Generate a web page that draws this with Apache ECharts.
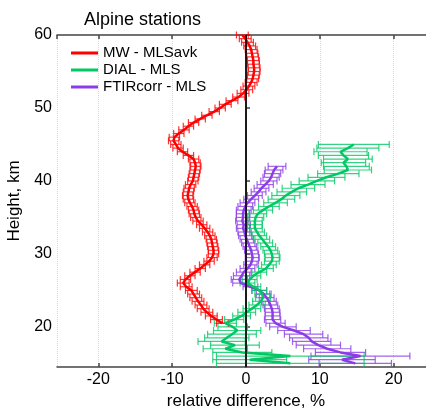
<!DOCTYPE html>
<html>
<head>
<meta charset="utf-8">
<script src="https://cdn.jsdelivr.net/npm/echarts@6/dist/echarts.min.js"></script>
<style>
  html, body { margin: 0; padding: 0; background: #fff; }
  #chart { width: 426px; height: 412px; }
</style>
</head>
<body>
<div id="chart"></div>
<script>
// MW - MLSavk, 60 km down to 20.5 km
var redHeight = [60, 59.5, 59, 58.5, 58, 57.5, 57, 56.5, 56, 55.5, 55, 54.5, 54, 53.5, 53, 52.5, 52, 51.5, 51, 50.5,
  50, 49.5, 49, 48.5, 48, 47.5, 47, 46.5, 46, 45.5, 45, 44.5, 44, 43.5, 43, 42.5, 42, 41.5, 41, 40.5,
  40, 39.5, 39, 38.5, 38, 37.5, 37, 36.5, 36, 35.5, 35, 34.5, 34, 33.5, 33, 32.5, 32, 31.5, 31, 30.5,
  30, 29.5, 29, 28.5, 28, 27.5, 27, 26.5, 26, 25.5, 25, 24.5, 24, 23.5, 23, 22.5, 22, 21.5, 21, 20.5];
var redValue = [-0.5, -0.1, 0.2, 0.5, 0.7, 0.8, 0.9, 1.0, 1.0, 1.1, 1.1, 1.0, 0.9, 0.7, 0.4, 0.1, -0.4, -1.0, -1.9, -2.8,
  -3.5, -4.3, -5.3, -6.2, -7.1, -7.8, -8.4, -9.1, -9.7, -9.8, -9.5, -9.2, -8.6, -7.8, -7.1, -6.9, -6.8, -6.9, -7.0, -7.1,
  -7.2, -7.5, -7.7, -7.8, -7.9, -7.8, -7.6, -7.3, -7.1, -7.0, -6.8, -6.5, -6.0, -5.6, -5.2, -4.9, -4.7, -4.6, -4.5, -4.4,
  -4.4, -4.6, -5.0, -5.6, -6.2, -6.9, -7.6, -8.2, -8.5, -8.1, -7.4, -7.1, -6.8, -6.5, -6.1, -5.8, -5.3, -4.7, -4.0, -3.2];
var redError = [0.8, 0.8, 0.8, 0.8, 0.8, 0.8, 0.8, 0.8, 0.8, 0.8, 0.8, 0.8, 0.8, 0.8, 0.8, 0.8, 0.8, 0.8, 0.8, 0.8,
  0.7, 0.7, 0.7, 0.7, 0.7, 0.7, 0.7, 0.7, 0.7, 0.7, 0.7, 0.7, 0.7, 0.7, 0.7, 0.7, 0.7, 0.7, 0.7, 0.7,
  0.7, 0.7, 0.7, 0.7, 0.7, 0.7, 0.7, 0.7, 0.7, 0.7, 0.7, 0.7, 0.7, 0.7, 0.7, 0.7, 0.7, 0.7, 0.7, 0.7,
  0.7, 0.7, 0.7, 0.7, 0.7, 0.7, 0.7, 0.7, 0.8, 0.8, 0.8, 0.8, 0.8, 0.8, 0.8, 0.8, 0.8, 0.8, 0.8, 0.8];

// DIAL - MLS, 45 km down to 15 km
var greenHeight = [45, 44.5, 44, 43.5, 43, 42.5, 42, 41.5, 41, 40.5, 40, 39.5, 39, 38.5, 38, 37.5, 37, 36.5, 36, 35.5,
  35, 34.5, 34, 33.5, 33, 32.5, 32, 31.5, 31, 30.5, 30, 29.5, 29, 28.5, 28, 27.5, 27, 26.5, 26, 25.5,
  25, 24.5, 24, 23.5, 23, 22.5, 22, 21.5, 21, 20.5, 20, 19.5, 19, 18.5, 18, 17.5, 17, 16.5, 16, 15.5, 15];
var greenValue = [14.6, 13.8, 12.8, 13.2, 13.8, 13.2, 13.6, 13.8, 12.5, 10.9, 9.6, 8.4, 7.1, 6.2, 5.4, 4.8, 4.0, 3.1, 2.3, 1.6,
  1.3, 1.2, 1.2, 1.2, 1.5, 1.8, 2.2, 2.6, 3.0, 3.3, 3.5, 3.6, 3.5, 3.1, 2.7, 1.8, 1.0, 0.5, 0.2, 1.0,
  1.8, 2.2, 2.3, 2.0, 1.5, 0.8, 0.1, -0.6, -1.6, -2.8, -1.8, -1.2, -1.9, -2.6, -3.3, -1.5, -2.8, -0.5, 6.0, 0.5, 6.0];
var greenError = [4.8, 4.2, 3.6, 3.4, 3.3, 3.0, 3.1, 3.2, 2.8, 2.5, 2.4, 2.3, 2.2, 2.0, 1.9, 1.8, 1.6, 1.4, 1.3, 1.2,
  1.1, 1.0, 1.0, 1.0, 1.0, 1.0, 1.0, 1.0, 1.0, 1.0, 1.0, 1.0, 1.0, 1.0, 1.0, 1.0, 1.0, 1.0, 1.0, 1.0,
  1.0, 1.0, 1.0, 1.1, 1.1, 1.2, 1.2, 1.2, 1.3, 1.5, 2.0, 3.2, 3.3, 3.0, 3.2, 3.3, 3.0, 4.0, 10.0, 5.0, 10.0];

// FTIRcorr - MLS, 42 km down to 15 km
var purpleHeight = [42, 41.5, 41, 40.5, 40, 39.5, 39, 38.5, 38, 37.5, 37, 36.5, 36, 35.5, 35, 34.5, 34, 33.5, 33, 32.5,
  32, 31.5, 31, 30.5, 30, 29.5, 29, 28.5, 28, 27.5, 27, 26.5, 26, 25.5, 25, 24.5, 24, 23.5, 23, 22.5,
  22, 21.5, 21, 20.5, 20, 19.5, 19, 18.5, 18, 17.5, 17, 16.5, 16, 15.5, 15];
var purpleValue = [4.2, 3.8, 3.6, 3.4, 3.1, 2.6, 2.1, 1.7, 1.2, 0.7, 0.2, -0.1, -0.3, -0.4, -0.4, -0.5, -0.3, -0.4, -0.2, -0.1,
  0.1, 0.3, 0.5, 0.7, 0.8, 0.9, 0.8, 0.6, 0.2, -0.3, -0.6, -0.9, -0.7, 0.6, 1.8, 2.4, 2.8, 3.1, 3.3, 3.5,
  3.6, 3.6, 3.6, 4.0, 5.0, 6.5, 7.8, 8.5, 8.9, 9.8, 11.0, 12.8, 15.5, 13.0, 14.8];
var purpleError = [1.2, 1.2, 1.1, 1.1, 1.1, 1.1, 1.0, 1.0, 1.0, 1.0, 1.0, 1.0, 1.0, 0.9, 0.9, 0.9, 0.9, 0.9, 0.9, 0.9,
  0.9, 0.9, 0.9, 0.9, 0.9, 0.9, 0.9, 0.9, 1.0, 1.0, 1.1, 1.1, 1.1, 1.0, 1.0, 1.0, 1.0, 1.0, 1.0, 1.0,
  1.0, 1.0, 1.1, 1.3, 1.8, 2.2, 2.6, 2.6, 2.6, 3.0, 3.2, 3.4, 6.7, 4.5, 4.9];

var xTicks = [-20, -10, 0, 10, 20];

var FONT = 'Liberation Sans, Arial, sans-serif';
var RED = '#ff0000', GREEN = '#00c864', PURPLE = '#8c3ce6';

function linePoints(vals, hs) {
  return vals.map(function (v, i) { return [v, hs[i]]; });
}
function errPoints(vals, errs, hs) {
  return vals.map(function (v, i) { return [v - errs[i], v + errs[i], hs[i]]; });
}

// horizontal error bar with caps
function renderErr(params, api) {
  var lo = api.coord([api.value(0), api.value(2)]);
  var hi = api.coord([api.value(1), api.value(2)]);
  var cap = 3.5;
  var st = { stroke: api.visual('color'), lineWidth: 1.2, opacity: 0.8 };
  return {
    type: 'group',
    children: [
      { type: 'line', shape: { x1: lo[0], y1: lo[1], x2: hi[0], y2: hi[1] }, style: st },
      { type: 'line', shape: { x1: lo[0], y1: lo[1] - cap, x2: lo[0], y2: lo[1] + cap }, style: st },
      { type: 'line', shape: { x1: hi[0], y1: hi[1] - cap, x2: hi[0], y2: hi[1] + cap }, style: st }
    ]
  };
}

function errSeries(name, color, vals, errs, hs) {
  return {
    name: name,
    type: 'custom',
    renderItem: renderErr,
    itemStyle: { color: color },
    encode: { x: [0, 1], y: 2 },
    data: errPoints(vals, errs, hs),
    silent: true,
    z: 2
  };
}
function lineSeries(name, color, vals, hs) {
  return {
    name: name,
    type: 'line',
    data: linePoints(vals, hs),
    showSymbol: false,
    symbol: 'none',
    lineStyle: { color: color, width: 2.5 },
    itemStyle: { color: color },
    z: 3
  };
}

var myChart = echarts.init(document.getElementById('chart'));

var zeroLine = lineSeries('zero', '#000', [0, 0], [14.5, 60]);
zeroLine.lineStyle = { color: '#000', width: 1.5 };
zeroLine.z = 4;
zeroLine.silent = true;

var axisLineStyle = { color: '#444', width: 1.5 };

myChart.setOption({
  animation: false,
  title: {
    text: 'Alpine stations',
    left: 79,
    top: 6,
    textStyle: { fontFamily: FONT, fontSize: 18, fontWeight: 'normal', color: '#000' }
  },
  legend: {
    data: ['MW - MLSavk', 'DIAL - MLS', 'FTIRcorr - MLS'],
    orient: 'vertical',
    left: 66,
    top: 40,
    itemWidth: 27,
    itemHeight: 3,
    itemGap: 1,
    icon: 'rect',
    textStyle: { fontFamily: FONT, fontSize: 15, color: '#000', lineHeight: 16 }
  },
  grid: { left: 57, top: 35, width: 378, height: 332, containLabel: false, outerBoundsMode: 'none' },
  xAxis: [{
    type: 'value',
    min: -25.6,
    max: 25.6,
    name: 'relative difference, %',
    nameLocation: 'middle',
    nameGap: 26,
    nameTextStyle: { fontFamily: FONT, fontSize: 17, color: '#000' },
    axisLine: { show: true, lineStyle: axisLineStyle },
    axisTick: { show: true, inside: true, length: 4, lineStyle: axisLineStyle },
    axisLabel: {
      fontFamily: FONT, fontSize: 16, color: '#000', margin: 5,
      showMinLabel: false, showMaxLabel: false,
      formatter: function (v) { return xTicks.indexOf(v) >= 0 ? String(v) : ''; }
    },
    splitLine: { show: true, lineStyle: { color: '#d8d8d8', type: 'dotted', width: 1 } }
  }, {
    type: 'value',
    position: 'top',
    min: -25.6,
    max: 25.6,
    axisLine: { show: true, lineStyle: axisLineStyle },
    axisTick: { show: true, inside: true, length: 4, lineStyle: axisLineStyle },
    axisLabel: { show: false },
    splitLine: { show: false }
  }],
  yAxis: {
    type: 'value',
    min: 14.5,
    max: 60,
    name: 'Height, km',
    nameLocation: 'middle',
    nameGap: 27,
    nameTextStyle: { fontFamily: FONT, fontSize: 17, color: '#000' },
    axisLine: { show: true, lineStyle: axisLineStyle },
    axisTick: { show: true, inside: true, length: 4, lineStyle: axisLineStyle },
    axisLabel: { fontFamily: FONT, fontSize: 16, color: '#000', margin: 5, showMinLabel: false },
    splitLine: { show: false }
  },
  series: [
    errSeries('err-purple', PURPLE, purpleValue, purpleError, purpleHeight),
    errSeries('err-green', GREEN, greenValue, greenError, greenHeight),
    errSeries('err-red', RED, redValue, redError, redHeight),
    lineSeries('FTIRcorr - MLS', PURPLE, purpleValue, purpleHeight),
    lineSeries('DIAL - MLS', GREEN, greenValue, greenHeight),
    lineSeries('MW - MLSavk', RED, redValue, redHeight),
    zeroLine
  ]
});
</script>
</body>
</html>
